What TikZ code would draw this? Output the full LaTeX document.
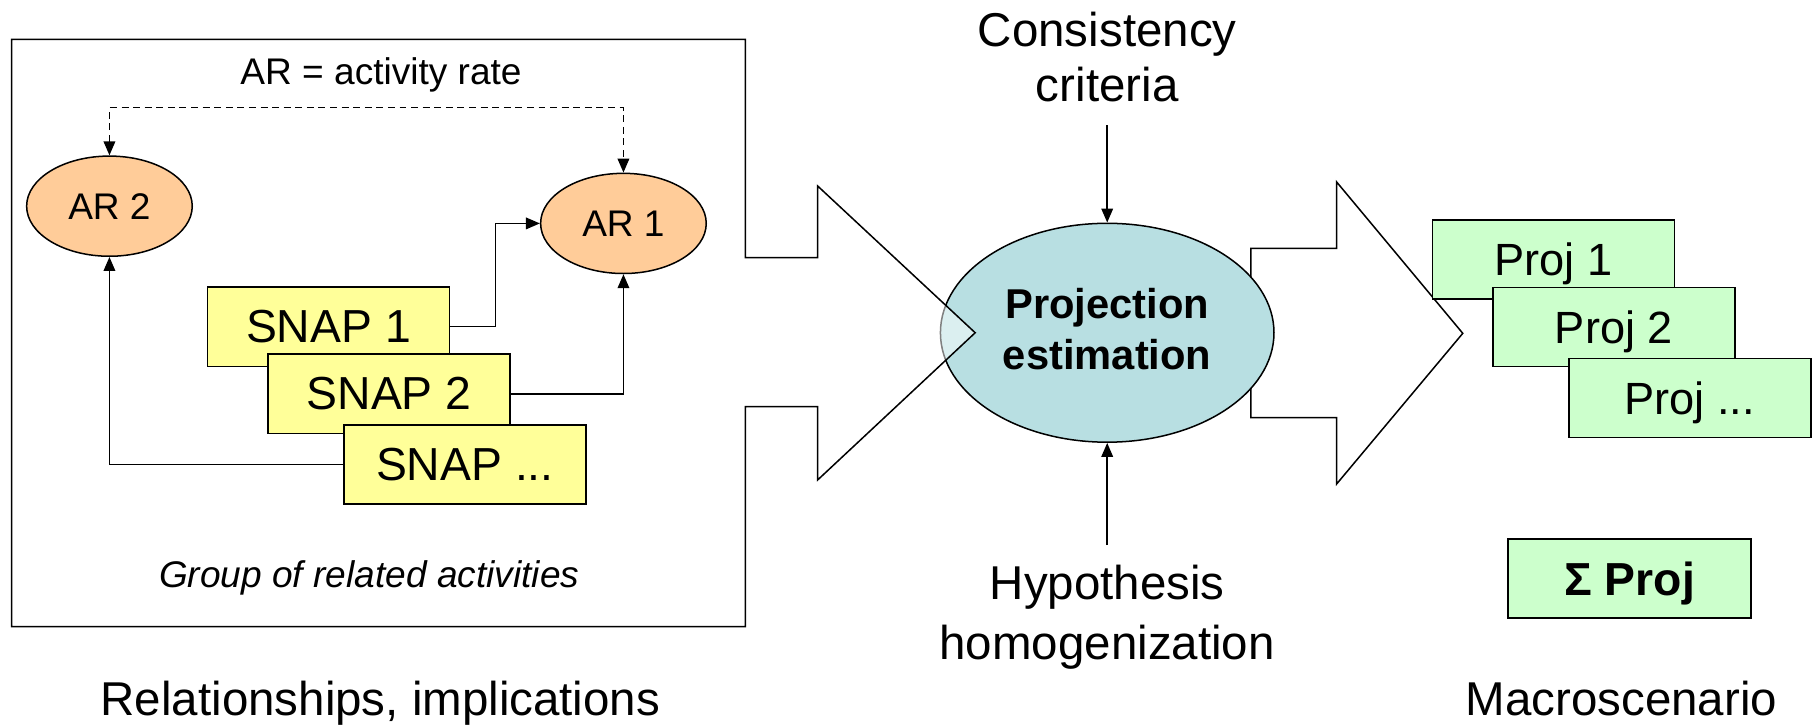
\documentclass[tikz,border=0pt]{standalone}
\usepackage{fontspec}
\setmainfont{Liberation Sans}
\usetikzlibrary{arrows.meta,shapes.geometric}
\definecolor{arorange}{HTML}{FFCC99}
\definecolor{snapyellow}{HTML}{FFFF99}
\definecolor{projgreen}{HTML}{CCFFCC}
\definecolor{peblue}{HTML}{B8DFE2}
\begin{document}
\begin{tikzpicture}[x=1pt,y=-1pt,
  every node/.style={inner sep=0pt},
  ln/.style={line width=1.3pt},
  arr/.style={ln,-{Triangle[length=12pt,width=10pt]}},
  darr/.style={ln,dash pattern=on 6pt off 4pt,{Triangle[length=12pt,width=10pt]}-{Triangle[length=12pt,width=10pt]}},
  arnode/.style={ellipse,draw,ln,fill=arorange,minimum width=143pt,minimum height=86.5pt,font=\fontsize{32}{38}\selectfont},
  snapbox/.style={rectangle,draw,ln,fill=snapyellow,minimum width=209pt,minimum height=68.5pt,text depth=0pt,font=\fontsize{40}{48}\selectfont},
  projbox/.style={rectangle,draw,ln,fill=projgreen,minimum width=209pt,minimum height=68.3pt,text depth=0pt,font=\fontsize{39}{47}\selectfont},
  bigtext/.style={font=\fontsize{41}{48}\selectfont},
  midtext/.style={font=\fontsize{32}{38}\selectfont},
]
\useasboundingbox (0,0) rectangle (1568,627);

% right block arrow
\draw[ln,fill=white] (1080,214.4) -- (1154,214.4) -- (1154,157) -- (1263,287.8)
  -- (1154,418) -- (1154,360.6) -- (1080,360.6) -- cycle;

% central ellipse
\node[ellipse,draw,ln,fill=peblue,minimum width=288pt,minimum height=189pt] (pe) at (956,287.3) {};

% left group box with block arrow
\draw[ln,fill=white,fill opacity=0.5] (10,34) -- (643.6,34) -- (643.6,222.5) -- (706,222.5)
  -- (706,160.6) -- (842,287.3) -- (706,414.4) -- (706,351) -- (643.6,351)
  -- (643.6,541) -- (10,541) -- cycle;

\node[font=\fontsize{36}{44.6}\selectfont\bfseries,align=center] (pelabel) at (956,284) {Projection\\estimation};

% inner elements
\node[arnode] (ar2) at (94.5,178) {AR 2};
\node[arnode] (ar1) at (538.3,192.9) {AR 1};
\node[midtext,anchor=base] (artitle) at (329,73) {AR = activity rate};
\node[snapbox] (snap1) at (283.6,282) {SNAP 1};
\node[snapbox] (snap2) at (336,340) {SNAP 2};
\node[snapbox] (snapd) at (401.4,401) {SNAP ...};
\node[midtext,anchor=base,font=\fontsize{32}{38}\selectfont\itshape] (group) at (318.8,507) {Group of related activities};

\draw[darr] (ar2.north) -- ++(0,-41.2) -| (ar1.north);
\draw[arr] (snap1.east) -- ++(39,0) |- (ar1.west);
\draw[arr] (snap2.east) -| (ar1.south);
\draw[arr] (snapd.west) -| (ar2.south);

% top and bottom inputs
\node[bigtext,anchor=base] (cons1) at (956,40.3) {Consistency};
\node[bigtext,anchor=base] (cons2) at (956,87.8) {criteria};
\node[bigtext,anchor=base] (hyp1) at (956,518) {Hypothesis};
\node[bigtext,anchor=base] (hyp2) at (956,569.3) {homogenization};
\coordinate (consend) at (956,108);
\coordinate (hypend) at (956,470.6);
\draw[arr] (consend) -- (pe.north);
\draw[arr] (hypend) -- (pe.south);

% projections
\node[projbox] (proj1) at (1341.3,224.1) {Proj 1};
\node[projbox] (proj2) at (1393.5,282.4) {Proj 2};
\node[projbox] (projd) at (1459,343.7) {Proj ...};
\node[projbox,font=\fontsize{40}{48}\selectfont\bfseries,minimum width=210pt,minimum height=68pt] (sum) at (1407,499.4) {Σ Proj};

% bottom captions
\node[bigtext,anchor=base] (rel) at (328.5,617.5) {Relationships, implications};
\node[bigtext,anchor=base] (macro) at (1400,617.5) {Macroscenario};
\end{tikzpicture}
\end{document}
